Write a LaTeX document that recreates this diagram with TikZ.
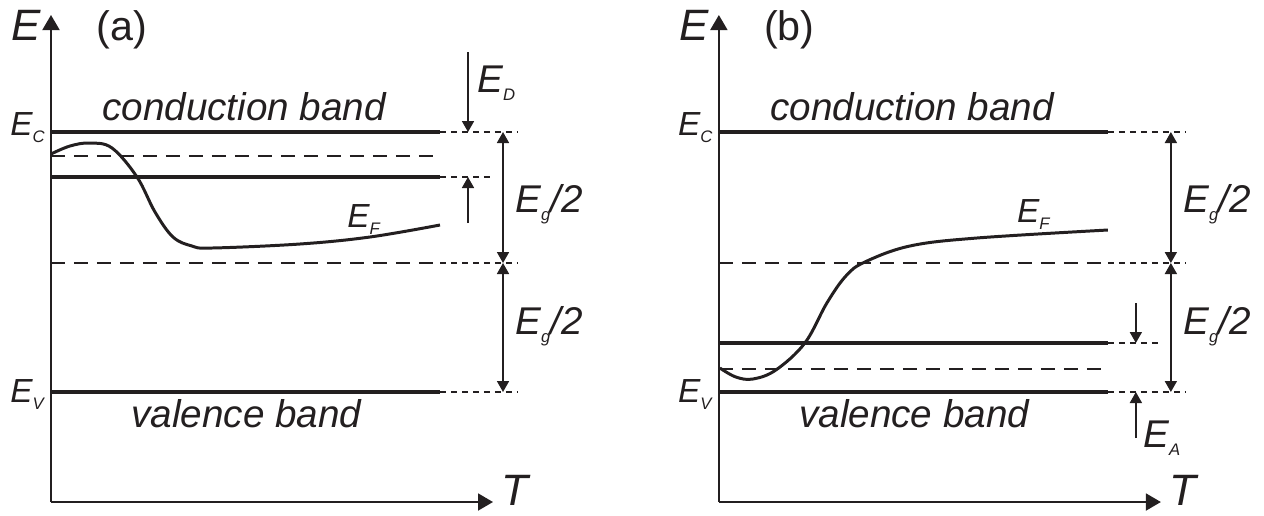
\documentclass[tikz,border=0pt]{standalone}
\usepackage{fontspec}
\setmainfont{Liberation Sans}
\usepackage{tikz}
\usetikzlibrary{arrows.meta}
\definecolor{bInk}{RGB}{35,31,32}
\tikzset{
  band/.style={draw=bInk, line width=1.9pt},
  dlevel/.style={draw=bInk, line width=1pt, dash pattern=on 0.28cm off 0.18cm},
  ext/.style={draw=bInk, line width=0.8pt, dash pattern=on 0.12cm off 0.1cm},
  axarr/.style={draw=bInk, line width=1.1pt, -{Triangle[length=3mm,width=3.4mm]}},
  dimarr/.style={draw=bInk, line width=1pt, -{Triangle[length=2.2mm,width=2.4mm]}},
  dimboth/.style={draw=bInk, line width=1pt,
                  {Triangle[length=2.2mm,width=2.4mm]}-{Triangle[length=2.2mm,width=2.4mm]}},
  fermi/.style={draw=bInk, line width=1.7pt},
  lblbig/.style={text=bInk, inner sep=0pt, anchor=base west,
                 font=\fontsize{22}{24}\selectfont},
  lblaxis/.style={lblbig, font=\fontsize{25}{27}\selectfont\itshape},
  lblmid/.style={lblbig, font=\fontsize{22}{24}\selectfont\itshape},
  lblsml/.style={lblbig, font=\fontsize{19}{21}\selectfont\itshape},
}
\newcommand{\lowsub}[1]{\raisebox{-0.22em}{\fontsize{9.5}{10}\selectfont #1}}
% axes, band edges, midgap and half-gap arrows of one panel
\newcommand{\BandFrame}[2]{%
  \coordinate (#1O) at (51,502);
  \coordinate (#1Etop) at (51,15);
  \coordinate (#1Tend) at (493,502);
  \draw[axarr] (#1O) -- (#1Etop);
  \draw[axarr] (#1O) -- (#1Tend);
  \node[lblaxis] (#1E) at (11,40) {E};
  \node[lblbig, font=\fontsize{23.5}{26}\selectfont] (#1pan) at (96,40) {(#2)};
  \node[lblaxis] (#1T) at (501,505) {T};
  \coordinate (#1c0) at (51,132); \coordinate (#1c1) at (440,132); \coordinate (#1c2) at (518,132);
  \coordinate (#1m0) at (51,263); \coordinate (#1m1) at (440,263); \coordinate (#1m2) at (518,263);
  \coordinate (#1v0) at (51,392); \coordinate (#1v1) at (440,392); \coordinate (#1v2) at (518,392);
  \draw[band] (#1c0) -- (#1c1);   \draw[ext] (#1c1) -- (#1c2);
  \draw[dlevel] (#1m0) -- (#1m1); \draw[ext] (#1m1) -- (#1m2);
  \draw[band] (#1v0) -- (#1v1);   \draw[ext] (#1v1) -- (#1v2);
  \node[lblsml] (#1Ec) at (10,135) {E\lowsub{C}};
  \node[lblsml] (#1Ev) at (10,402) {E\lowsub{V}};
  \node[lblmid] (#1cb) at (102,120) {conduction band};
  \node[lblmid] (#1vb) at (131,427) {valence band};
  \coordinate (#1g0) at (503,132); \coordinate (#1g1) at (503,263); \coordinate (#1g2) at (503,392);
  \draw[dimboth] (#1g0) -- (#1g1);
  \draw[dimboth] (#1g1) -- (#1g2);
  \node[lblmid] (#1gu) at (515,212) {E\lowsub{g}/2};
  \node[lblmid] (#1gl) at (515,334) {E\lowsub{g}/2};}

\begin{document}
\begin{tikzpicture}[x=0.02cm, y=-0.02cm]
  \useasboundingbox (0,0) rectangle (1264,515);

  % --- (a) n-type ---
  \BandFrame{a}{a}
  \coordinate (aD0) at (51,156); \coordinate (aD1) at (440,156);
  \draw[dlevel] (aD0) -- (aD1);
  \coordinate (ad0) at (51,177); \coordinate (ad1) at (440,177); \coordinate (ad2) at (490,177);
  \draw[band] (ad0) -- (ad1);
  \draw[ext] (ad1) -- (ad2);
  \coordinate (aEDtop) at (468,52); \coordinate (aEDbot) at (468,132);
  \draw[dimarr] (aEDtop) -- (aEDbot);
  \node[lblmid] (aED) at (477,92) {E\lowsub{D}};
  \coordinate (aup0) at (468,223); \coordinate (aup1) at (468,177);
  \draw[dimarr] (aup0) -- (aup1);
  \draw[fermi] plot[smooth, tension=0.6] coordinates
    {(51,154) (70,146) (90,143) (112,148) (137,177) (155,212) (173,237)
     (192,246) (212,248) (300,244) (370,237) (440,225)};
  \node[lblsml] (aEF) at (347,227) {E\lowsub{F}};

  % --- (b) p-type ---
  \begin{scope}[xshift=13.36cm]
    \BandFrame{b}{b}
    \coordinate (ba0) at (51,343); \coordinate (ba1) at (440,343); \coordinate (ba2) at (490,343);
    \draw[band] (ba0) -- (ba1);
    \draw[ext] (ba1) -- (ba2);
    \coordinate (bA0) at (51,369); \coordinate (bA1) at (440,369);
    \draw[dlevel] (bA0) -- (bA1);
    \coordinate (bdn0) at (468,303); \coordinate (bdn1) at (468,343);
    \draw[dimarr] (bdn0) -- (bdn1);
    \coordinate (bEAbot) at (468,438); \coordinate (bEAtop) at (468,392);
    \draw[dimarr] (bEAbot) -- (bEAtop);
    \node[lblmid] (bEA) at (475,447) {E\lowsub{A}};
    \draw[fermi] plot[smooth, tension=0.6] coordinates
      {(52,368) (68,377) (85,379) (108,370) (137,343) (159,303) (178,276)
       (197,262) (242,246) (309,238) (440,230)};
    \node[lblsml] (bEF) at (349,222) {E\lowsub{F}};
  \end{scope}
\end{tikzpicture}
\end{document}
